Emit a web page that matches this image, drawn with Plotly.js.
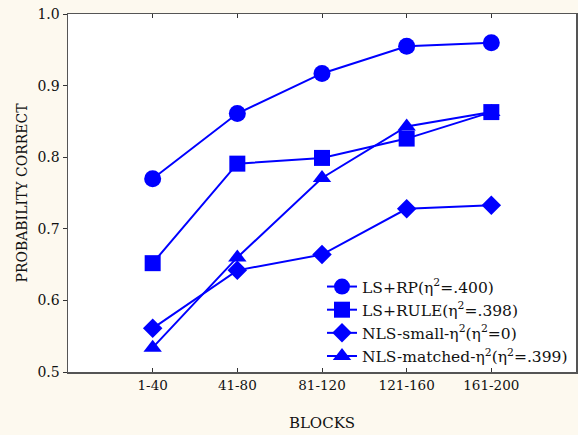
<!DOCTYPE html>
<html>
<head>
<meta charset="utf-8">
<script src="https://cdn.plot.ly/plotly-3.0.1.min.js"></script>
<style>html,body{margin:0;padding:0;background:#fdf9ef;}</style>
</head>
<body>
<div id="chart" style="width:578px;height:435px;"></div>
<script>
const blocks = ["1-40", "41-80", "81-120", "121-160", "161-200"];
const lsRP = [0.770, 0.861, 0.917, 0.955, 0.960];
const lsRule = [0.652, 0.791, 0.799, 0.826, 0.863];
const nlsSmall = [0.561, 0.642, 0.664, 0.728, 0.733];
const nlsMatched = [0.534, 0.660, 0.771, 0.843, 0.863];
const names = [
  "LS+RP(η<sup>2</sup>=.400)",
  "LS+RULE(η<sup>2</sup>=.398)",
  "NLS-small-η<sup>2</sup>(η<sup>2</sup>=0)",
  "NLS-matched-η<sup>2</sup>(η<sup>2</sup>=.399)"
];
const yTicks = [0.5, 0.6, 0.7, 0.8, 0.9, 1.0];

const blue = "#0000ff";
function tr(y, name, symbol, size) {
  return {
    x: blocks, y: y, name: name, type: "scatter", mode: "lines+markers",
    line: {color: blue, width: 2},
    marker: {color: blue, symbol: symbol, size: size},
    cliponaxis: false
  };
}
const data = [
  tr(lsRP, names[0], "circle", 17),
  tr(lsRule, names[1], "square", 16),
  tr(nlsSmall, names[2], "diamond", 15),
  tr(nlsMatched, names[3], "triangle-up", 16)
];
const fam = "DejaVu Serif";
const ink = "#111111";
const layout = {
  width: 578, height: 435,
  paper_bgcolor: "#fdf9ef", plot_bgcolor: "#ffffff",
  margin: {l: 68, r: 2, t: 14, b: 63},
  font: {family: fam, size: 14, color: ink},
  showlegend: true,
  legend: {
    x: 0.50, y: 0.285, xanchor: "left", yanchor: "top",
    bgcolor: "rgba(0,0,0,0)", font: {family: fam, size: 15.5, color: ink},
    tracegroupgap: 0
  },
  xaxis: {
    type: "category", range: [-1, 5],
    showline: true, linecolor: "#555555", linewidth: 1.5, mirror: "ticks",
    ticks: "inside", ticklen: 4, tickcolor: "#333333",
    showgrid: false, zeroline: false,
    tickfont: {family: fam, size: 13.5, color: ink},
    title: {text: "BLOCKS", font: {family: fam, size: 15, color: ink}, standoff: 26}
  },
  yaxis: {
    range: [0.5, 1.0], tickvals: yTicks, tickformat: ".1f",
    showline: true, linecolor: "#555555", linewidth: 1.5, mirror: true,
    ticks: "outside", ticklen: 4, tickcolor: "#333333",
    showgrid: false, zeroline: false,
    tickfont: {family: fam, size: 14, color: ink},
    title: {text: "PROBABILITY CORRECT", font: {family: fam, size: 14, color: ink}, standoff: 6}
  }
};
Plotly.newPlot("chart", data, layout, {displayModeBar: false, staticPlot: true});
</script>
</body>
</html>
